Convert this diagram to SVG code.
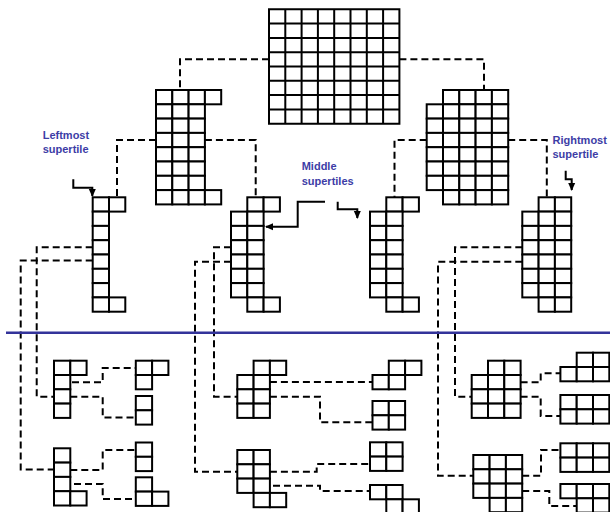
<svg xmlns="http://www.w3.org/2000/svg" xmlns:xlink="http://www.w3.org/1999/xlink" width="610" height="512" viewBox="0 0 610 512">
<style>
.c{fill:#fff;stroke:#000;stroke-width:2}
.g{fill:none;stroke:#000;stroke-width:2}
.d{fill:none;stroke:#000;stroke-width:2;stroke-dasharray:7 4}
.a{fill:none;stroke:#000;stroke-width:2}
.t{font-family:"Liberation Sans",Arial,sans-serif;font-weight:bold;font-size:11px;fill:#3d3da6}
</style>
<defs>
<rect id="cell" class="c" width="16.3" height="14.3"/>
<marker id="ah" markerUnits="userSpaceOnUse" markerWidth="8" markerHeight="8" viewBox="0 0 8 8" refX="7" refY="4" orient="auto">
<path d="M0,0.5 L8,4 L0,7.5 Z" fill="#000"/>
</marker>
</defs>
<rect width="610" height="512" fill="#fff"/>

<g id="connectors">
<path class="d" d="M269,59.3 H180 V90"/>
<path class="d" d="M399.4,59.3 H484 V90"/>
<path class="d" d="M156,140 H117 V197.3"/>
<path class="d" d="M204.9,140 H255.7 V197.3"/>
<path class="d" d="M426.7,140 H394.5 V197.3"/>
<path class="d" d="M508.2,140 H546.8 V197.3"/>
<path class="d" d="M92.7,247.3 H36.7 V396.7 H54"/>
<path class="d" d="M92.7,260.5 H20.7 V469.5 H54"/>
<path class="d" d="M231,247.3 H214 V396.7 H237.3"/>
<path class="d" d="M231,261.7 H195 V471.7 H237.3"/>
<path class="d" d="M522.3,247.3 H455 V396.7 H471.7"/>
<path class="d" d="M522.3,261.7 H438 V475.7 H473.3"/>
<path class="d" d="M72,382.3 H102.7 V368 H135.8"/>
<path class="d" d="M70.3,396.7 H102.7 V417.5 H135.8"/>
<path class="d" d="M70.3,470 H102.7 V450 H135.8"/>
<path class="d" d="M74,484 H102.7 V499 H135.8"/>
<path class="d" d="M269.9,382 H372.5"/>
<path class="d" d="M269.9,396.7 H320 V422.3 H372.5"/>
<path class="d" d="M269.9,471.7 H316.7 V464 H370"/>
<path class="d" d="M273,485.7 H320 V491 H370"/>
<path class="d" d="M520.6,382.3 H540.7 V373.3 H560.4"/>
<path class="d" d="M520.6,396.7 H540.7 V416 H560.4"/>
<path class="d" d="M522.2,475.7 H541 V450 H560.4"/>
<path class="d" d="M522.2,491 H549.3 V506 H576.7"/>
</g>

<line x1="6" y1="332.7" x2="610" y2="332.7" stroke="#33339a" stroke-width="2.5"/>

<g id="top-grid">
<path class="c" d="M269,9.3 h130.4 v114.4 h-130.4 Z"/>
<path class="g" d="M285.3,9.3 v114.4 M301.6,9.3 v114.4 M317.9,9.3 v114.4 M334.2,9.3 v114.4 M350.5,9.3 v114.4 M366.8,9.3 v114.4 M383.1,9.3 v114.4 M269,23.6 h130.4 M269,37.9 h130.4 M269,52.2 h130.4 M269,66.5 h130.4 M269,80.8 h130.4 M269,95.1 h130.4 M269,109.4 h130.4"/>
</g>

<g id="left-half">
<use href="#cell" x="156" y="90"/><use href="#cell" x="172.3" y="90"/><use href="#cell" x="188.6" y="90"/><use href="#cell" x="204.9" y="90"/>
<use href="#cell" x="156" y="104.3"/><use href="#cell" x="172.3" y="104.3"/><use href="#cell" x="188.6" y="104.3"/>
<use href="#cell" x="156" y="118.6"/><use href="#cell" x="172.3" y="118.6"/><use href="#cell" x="188.6" y="118.6"/>
<use href="#cell" x="156" y="132.9"/><use href="#cell" x="172.3" y="132.9"/><use href="#cell" x="188.6" y="132.9"/>
<use href="#cell" x="156" y="147.2"/><use href="#cell" x="172.3" y="147.2"/><use href="#cell" x="188.6" y="147.2"/>
<use href="#cell" x="156" y="161.5"/><use href="#cell" x="172.3" y="161.5"/><use href="#cell" x="188.6" y="161.5"/>
<use href="#cell" x="156" y="175.8"/><use href="#cell" x="172.3" y="175.8"/><use href="#cell" x="188.6" y="175.8"/>
<use href="#cell" x="156" y="190.1"/><use href="#cell" x="172.3" y="190.1"/><use href="#cell" x="188.6" y="190.1"/><use href="#cell" x="204.9" y="190.1"/>
</g>

<g id="right-half">
<use href="#cell" x="443" y="90"/><use href="#cell" x="459.3" y="90"/><use href="#cell" x="475.6" y="90"/><use href="#cell" x="491.9" y="90"/>
<use href="#cell" x="426.7" y="104.3"/><use href="#cell" x="443" y="104.3"/><use href="#cell" x="459.3" y="104.3"/><use href="#cell" x="475.6" y="104.3"/><use href="#cell" x="491.9" y="104.3"/>
<use href="#cell" x="426.7" y="118.6"/><use href="#cell" x="443" y="118.6"/><use href="#cell" x="459.3" y="118.6"/><use href="#cell" x="475.6" y="118.6"/><use href="#cell" x="491.9" y="118.6"/>
<use href="#cell" x="426.7" y="132.9"/><use href="#cell" x="443" y="132.9"/><use href="#cell" x="459.3" y="132.9"/><use href="#cell" x="475.6" y="132.9"/><use href="#cell" x="491.9" y="132.9"/>
<use href="#cell" x="426.7" y="147.2"/><use href="#cell" x="443" y="147.2"/><use href="#cell" x="459.3" y="147.2"/><use href="#cell" x="475.6" y="147.2"/><use href="#cell" x="491.9" y="147.2"/>
<use href="#cell" x="426.7" y="161.5"/><use href="#cell" x="443" y="161.5"/><use href="#cell" x="459.3" y="161.5"/><use href="#cell" x="475.6" y="161.5"/><use href="#cell" x="491.9" y="161.5"/>
<use href="#cell" x="426.7" y="175.8"/><use href="#cell" x="443" y="175.8"/><use href="#cell" x="459.3" y="175.8"/><use href="#cell" x="475.6" y="175.8"/><use href="#cell" x="491.9" y="175.8"/>
<use href="#cell" x="443" y="190.1"/><use href="#cell" x="459.3" y="190.1"/><use href="#cell" x="475.6" y="190.1"/><use href="#cell" x="491.9" y="190.1"/>
</g>

<g id="leftmost-supertile">
<use href="#cell" x="92.7" y="197.3"/><use href="#cell" x="109" y="197.3"/>
<use href="#cell" x="92.7" y="211.6"/><use href="#cell" x="92.7" y="225.9"/><use href="#cell" x="92.7" y="240.2"/><use href="#cell" x="92.7" y="254.5"/><use href="#cell" x="92.7" y="268.8"/><use href="#cell" x="92.7" y="283.1"/>
<use href="#cell" x="92.7" y="297.4"/><use href="#cell" x="109" y="297.4"/>
</g>

<g id="middle-supertile-1">
<use href="#cell" x="247.3" y="197.3"/><use href="#cell" x="263.6" y="197.3"/>
<use href="#cell" x="231" y="211.6"/><use href="#cell" x="247.3" y="211.6"/>
<use href="#cell" x="231" y="225.9"/><use href="#cell" x="247.3" y="225.9"/>
<use href="#cell" x="231" y="240.2"/><use href="#cell" x="247.3" y="240.2"/>
<use href="#cell" x="231" y="254.5"/><use href="#cell" x="247.3" y="254.5"/>
<use href="#cell" x="231" y="268.8"/><use href="#cell" x="247.3" y="268.8"/>
<use href="#cell" x="231" y="283.1"/><use href="#cell" x="247.3" y="283.1"/>
<use href="#cell" x="247.3" y="297.4"/><use href="#cell" x="263.6" y="297.4"/>
</g>

<g id="middle-supertile-2">
<use href="#cell" x="386.3" y="197.3"/><use href="#cell" x="402.6" y="197.3"/>
<use href="#cell" x="370" y="211.6"/><use href="#cell" x="386.3" y="211.6"/>
<use href="#cell" x="370" y="225.9"/><use href="#cell" x="386.3" y="225.9"/>
<use href="#cell" x="370" y="240.2"/><use href="#cell" x="386.3" y="240.2"/>
<use href="#cell" x="370" y="254.5"/><use href="#cell" x="386.3" y="254.5"/>
<use href="#cell" x="370" y="268.8"/><use href="#cell" x="386.3" y="268.8"/>
<use href="#cell" x="370" y="283.1"/><use href="#cell" x="386.3" y="283.1"/>
<use href="#cell" x="386.3" y="297.4"/><use href="#cell" x="402.6" y="297.4"/>
</g>

<g id="rightmost-supertile">
<use href="#cell" x="538.6" y="197.3"/><use href="#cell" x="554.9" y="197.3"/>
<use href="#cell" x="522.3" y="211.6"/><use href="#cell" x="538.6" y="211.6"/><use href="#cell" x="554.9" y="211.6"/>
<use href="#cell" x="522.3" y="225.9"/><use href="#cell" x="538.6" y="225.9"/><use href="#cell" x="554.9" y="225.9"/>
<use href="#cell" x="522.3" y="240.2"/><use href="#cell" x="538.6" y="240.2"/><use href="#cell" x="554.9" y="240.2"/>
<use href="#cell" x="522.3" y="254.5"/><use href="#cell" x="538.6" y="254.5"/><use href="#cell" x="554.9" y="254.5"/>
<use href="#cell" x="522.3" y="268.8"/><use href="#cell" x="538.6" y="268.8"/><use href="#cell" x="554.9" y="268.8"/>
<use href="#cell" x="522.3" y="283.1"/><use href="#cell" x="538.6" y="283.1"/><use href="#cell" x="554.9" y="283.1"/>
<use href="#cell" x="538.6" y="297.4"/><use href="#cell" x="554.9" y="297.4"/>
</g>

<g id="L3-1">
<use href="#cell" x="54" y="360.7"/><use href="#cell" x="70.3" y="360.7"/>
<use href="#cell" x="54" y="375"/><use href="#cell" x="54" y="389.3"/><use href="#cell" x="54" y="403.6"/>
</g>
<g id="L3-2">
<use href="#cell" x="135.8" y="360.7"/><use href="#cell" x="152.1" y="360.7"/><use href="#cell" x="135.8" y="375"/>
</g>
<g id="L3-3">
<use href="#cell" x="135.8" y="396"/><use href="#cell" x="135.8" y="410.3"/>
</g>
<g id="L3-4">
<use href="#cell" x="54" y="448.3"/><use href="#cell" x="54" y="462.6"/><use href="#cell" x="54" y="476.9"/>
<use href="#cell" x="54" y="491.2"/><use href="#cell" x="70.3" y="491.2"/>
</g>
<g id="L3-5">
<use href="#cell" x="135.8" y="442.5"/><use href="#cell" x="135.8" y="456.8"/>
</g>
<g id="L3-6">
<use href="#cell" x="135.8" y="477.3"/><use href="#cell" x="135.8" y="491.6"/><use href="#cell" x="152.1" y="491.6"/>
</g>

<g id="M3-1">
<use href="#cell" x="253.6" y="360.7"/><use href="#cell" x="269.9" y="360.7"/>
<use href="#cell" x="237.3" y="375"/><use href="#cell" x="253.6" y="375"/>
<use href="#cell" x="237.3" y="389.3"/><use href="#cell" x="253.6" y="389.3"/>
<use href="#cell" x="237.3" y="403.6"/><use href="#cell" x="253.6" y="403.6"/>
</g>
<g id="M3-2">
<use href="#cell" x="388.8" y="360.7"/><use href="#cell" x="405.1" y="360.7"/>
<use href="#cell" x="372.5" y="375"/><use href="#cell" x="388.8" y="375"/>
</g>
<g id="M3-3">
<use href="#cell" x="372.5" y="401"/><use href="#cell" x="388.8" y="401"/>
<use href="#cell" x="372.5" y="415.3"/><use href="#cell" x="388.8" y="415.3"/>
</g>
<g id="M3-4">
<use href="#cell" x="370" y="442.3"/><use href="#cell" x="386.3" y="442.3"/>
<use href="#cell" x="370" y="456.6"/><use href="#cell" x="386.3" y="456.6"/>
</g>
<g id="M3-5">
<use href="#cell" x="370" y="485"/><use href="#cell" x="386.3" y="485"/>
<use href="#cell" x="386.3" y="499.3"/><use href="#cell" x="402.6" y="499.3"/>
</g>
<g id="M3-6">
<use href="#cell" x="237.3" y="450"/><use href="#cell" x="253.6" y="450"/>
<use href="#cell" x="237.3" y="464.3"/><use href="#cell" x="253.6" y="464.3"/>
<use href="#cell" x="237.3" y="478.6"/><use href="#cell" x="253.6" y="478.6"/>
<use href="#cell" x="253.6" y="492.9"/><use href="#cell" x="269.9" y="492.9"/>
</g>

<g id="R3-1">
<use href="#cell" x="488" y="360.7"/><use href="#cell" x="504.3" y="360.7"/>
<use href="#cell" x="471.7" y="375"/><use href="#cell" x="488" y="375"/><use href="#cell" x="504.3" y="375"/>
<use href="#cell" x="471.7" y="389.3"/><use href="#cell" x="488" y="389.3"/><use href="#cell" x="504.3" y="389.3"/>
<use href="#cell" x="471.7" y="403.6"/><use href="#cell" x="488" y="403.6"/><use href="#cell" x="504.3" y="403.6"/>
</g>
<g id="R3-2">
<use href="#cell" x="576.7" y="352.7"/><use href="#cell" x="593" y="352.7"/>
<use href="#cell" x="560.4" y="367"/><use href="#cell" x="576.7" y="367"/><use href="#cell" x="593" y="367"/>
</g>
<g id="R3-3">
<use href="#cell" x="560.4" y="395"/><use href="#cell" x="576.7" y="395"/><use href="#cell" x="593" y="395"/>
<use href="#cell" x="560.4" y="409.3"/><use href="#cell" x="576.7" y="409.3"/><use href="#cell" x="593" y="409.3"/>
</g>
<g id="R3-4">
<use href="#cell" x="473.3" y="455"/><use href="#cell" x="489.6" y="455"/><use href="#cell" x="505.9" y="455"/>
<use href="#cell" x="473.3" y="469.3"/><use href="#cell" x="489.6" y="469.3"/><use href="#cell" x="505.9" y="469.3"/>
<use href="#cell" x="473.3" y="483.6"/><use href="#cell" x="489.6" y="483.6"/><use href="#cell" x="505.9" y="483.6"/>
<use href="#cell" x="489.6" y="497.9"/><use href="#cell" x="505.9" y="497.9"/>
</g>
<g id="R3-5">
<use href="#cell" x="560.4" y="443.3"/><use href="#cell" x="576.7" y="443.3"/><use href="#cell" x="593" y="443.3"/>
<use href="#cell" x="560.4" y="457.6"/><use href="#cell" x="576.7" y="457.6"/><use href="#cell" x="593" y="457.6"/>
</g>
<g id="R3-6">
<use href="#cell" x="560.4" y="484"/><use href="#cell" x="576.7" y="484"/><use href="#cell" x="593" y="484"/>
<use href="#cell" x="576.7" y="498.3"/><use href="#cell" x="593" y="498.3"/>
</g>

<g id="labels">
<text class="t" x="42.7" y="139">Leftmost</text>
<text class="t" x="42.7" y="152.5">supertile</text>
<text class="t" x="301.7" y="170">Middle</text>
<text class="t" x="301.7" y="184.5">supertiles</text>
<text class="t" x="552.5" y="144">Rightmost</text>
<text class="t" x="552.5" y="157.5">supertile</text>
</g>

<g id="arrows">
<path class="a" d="M73.3,179.3 V187.7 H92.3 V196" marker-end="url(#ah)"/>
<path class="a" d="M325,201.7 H297.7 V226.7 H266" marker-end="url(#ah)"/>
<path class="a" d="M337.7,201.7 V209.3 H357.3 V218" marker-end="url(#ah)"/>
<path class="a" d="M565.7,170.7 V179.3 H571.7 V190" marker-end="url(#ah)"/>
</g>
</svg>
